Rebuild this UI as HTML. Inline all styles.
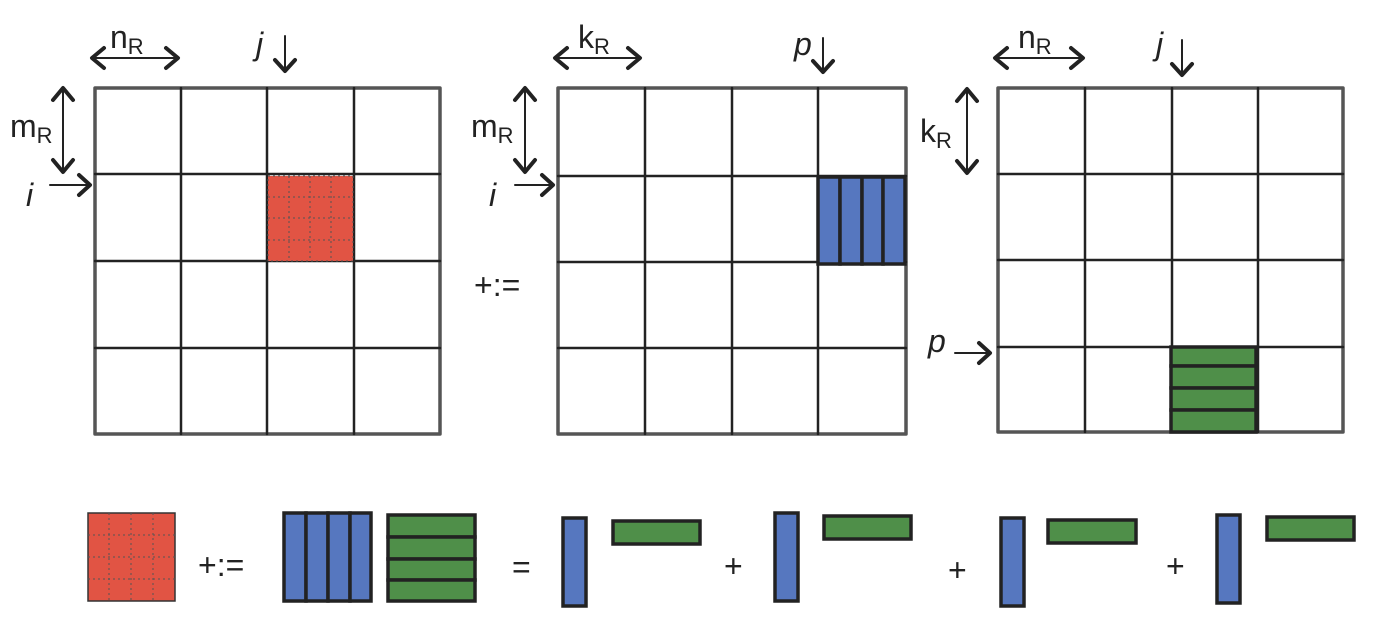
<!DOCTYPE html>
<html><head><meta charset="utf-8"><style>html,body{margin:0;padding:0;background:#fff;}svg{display:block}</style></head>
<body>
<svg width="1384" height="629" viewBox="0 0 1384 629" xmlns="http://www.w3.org/2000/svg" font-family="Liberation Sans, DejaVu Sans, sans-serif" fill="none">
<g stroke="#222" stroke-width="2.5" stroke-linecap="round" stroke-linejoin="round">
<rect x="95" y="88" width="345" height="346" stroke="#555" stroke-width="3.5"/>
<path d="M181 88V434M267 88V434M354 88V434M95 174H440M95 261H440M95 348H440"/>
<rect x="558" y="88" width="348" height="346" stroke="#555" stroke-width="3.5"/>
<path d="M645 88V434M732 88V434M818 88V434M558 176H906M558 262H906M558 348H906"/>
<rect x="998" y="88" width="345" height="344" stroke="#555" stroke-width="3.5"/>
<path d="M1085 88V432M1172 88V432M1258 88V432M998 174H1343M998 260H1343M998 347H1343"/>
</g>
<rect x="268" y="176" width="85" height="85" fill="#e15444"/>
<g stroke="#555" stroke-width="1" stroke-dasharray="2,3">
<path d="M289 176V261M310 176V261M331 176V261M268 197H353M268 218H353M268 240H353"/>
<rect x="268" y="176" width="85" height="85"/>
</g>
<g stroke="#222" stroke-width="3.5" fill="#5677bf">
<rect x="818" y="177" width="22" height="87"/><rect x="840" y="177" width="22" height="87"/><rect x="862" y="177" width="21" height="87"/><rect x="883" y="177" width="22" height="87"/>
</g>
<g stroke="#222" stroke-width="3.5" fill="#4f8f49">
<rect x="1171" y="347" width="85" height="19"/><rect x="1171" y="366" width="85" height="22"/><rect x="1171" y="388" width="85" height="22"/><rect x="1171" y="410" width="85" height="22"/>
</g>
<g stroke="#222" stroke-width="2" stroke-linecap="round" stroke-linejoin="round">
<path d="M92 58H178M555 58H640M995 58H1083M285 36V70M823 38V72M1182 40V75M63 88V172M525 88V172M967 89V173M50 185H90M515 185H553M955 353H990"/>
</g>
<g stroke="#222" stroke-width="4" stroke-linecap="round" stroke-linejoin="round">
<path d="M104 48L92 58L104 68M166 48L178 58L166 68"/>
<path d="M275 60L285 71L295 60"/>
<path d="M53 100L63 88L73 100M53 160L63 172L73 160"/>
<path d="M79 175L90 185L79 195"/>
<path d="M567 48L555 58L567 68M628 48L640 58L628 68"/>
<path d="M813 61L823 72L833 61"/>
<path d="M515 100L525 88L535 100M515 160L525 172L535 160"/>
<path d="M542 175L553 185L542 195"/>
<path d="M1007 48L995 58L1007 68M1071 48L1083 58L1071 68"/>
<path d="M1172 64L1182 75L1192 64"/>
<path d="M957 101L967 89L977 101M957 161L967 173L977 161"/>
<path d="M979 343L990 353L979 363"/>
</g>
<g fill="#222" font-size="32">
<text x="110" y="48">n<tspan font-size="22" dy="6">R</tspan></text>
<text x="256" y="55" font-style="italic">j</text>
<text x="10" y="137">m<tspan font-size="22" dy="6">R</tspan></text>
<text x="26" y="206" font-style="italic">i</text>
<text x="578" y="48">k<tspan font-size="22" dy="6">R</tspan></text>
<text x="794" y="55" font-style="italic">p</text>
<text x="471" y="137">m<tspan font-size="22" dy="6">R</tspan></text>
<text x="489" y="206" font-style="italic">i</text>
<text x="474" y="296" font-size="32">+:=</text>
<text x="1018" y="48">n<tspan font-size="22" dy="6">R</tspan></text>
<text x="1156" y="55" font-style="italic">j</text>
<text x="920" y="142">k<tspan font-size="22" dy="6">R</tspan></text>
<text x="928" y="352" font-style="italic">p</text>
<text x="198" y="576" font-size="32">+:=</text>
<text x="512" y="578" font-size="32">=</text>
<text x="724" y="577" font-size="32">+</text>
<text x="948" y="581" font-size="32">+</text>
<text x="1166" y="577" font-size="32">+</text>
</g>
<rect x="88" y="513" width="87" height="88" fill="#e15444" stroke="#333" stroke-width="1.5"/>
<g stroke="#555" stroke-width="1" stroke-dasharray="2,3">
<path d="M109 513V601M131 513V601M153 513V601M88 535H175M88 557H175M88 579H175"/>
</g>
<g stroke="#222" stroke-width="3.5" fill="#5677bf">
<rect x="284" y="513" width="22" height="88"/><rect x="306" y="513" width="22" height="88"/><rect x="328" y="513" width="22" height="88"/><rect x="350" y="513" width="21" height="88"/>
</g>
<g stroke="#222" stroke-width="3.5" fill="#4f8f49">
<rect x="388" y="515" width="87" height="22"/><rect x="388" y="537" width="87" height="22"/><rect x="388" y="559" width="87" height="21"/><rect x="388" y="580" width="87" height="21"/>
</g>
<g stroke="#222" stroke-width="3.5">
<rect x="563" y="518" width="23" height="88" fill="#5677bf"/>
<rect x="613" y="521" width="87" height="23" fill="#4f8f49"/>
<rect x="775" y="513" width="23" height="88" fill="#5677bf"/>
<rect x="824" y="516" width="87" height="23" fill="#4f8f49"/>
<rect x="1001" y="518" width="23" height="88" fill="#5677bf"/>
<rect x="1048" y="520" width="88" height="23" fill="#4f8f49"/>
<rect x="1217" y="515" width="23" height="88" fill="#5677bf"/>
<rect x="1267" y="517" width="87" height="23" fill="#4f8f49"/>
</g>
</svg>
</body></html>
